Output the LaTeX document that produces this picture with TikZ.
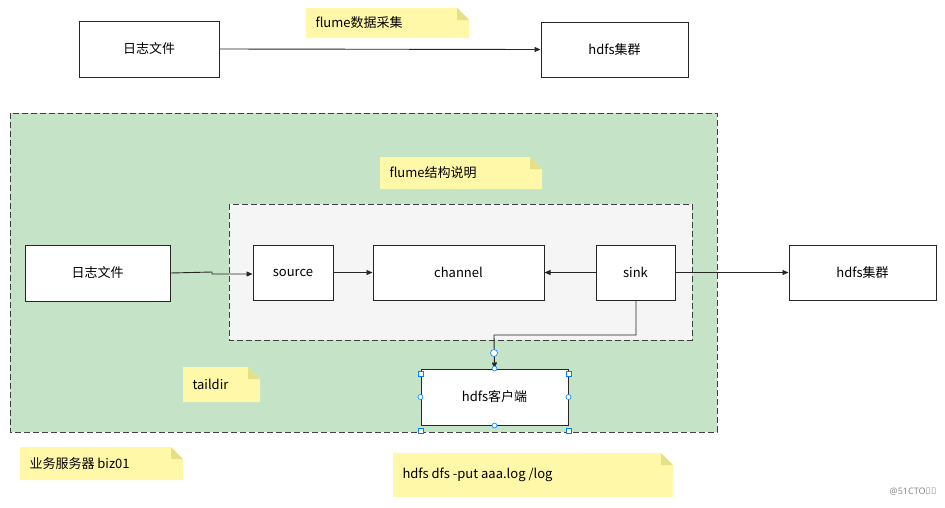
\documentclass[tikz,border=0pt]{standalone}
\usepackage{fontspec}
\setmainfont{Noto Sans}
\newfontfamily\cjk{Noto Sans CJK SC}
\usetikzlibrary{arrows.meta}
\begin{document}
\begin{tikzpicture}[x=1pt,y=-1pt,font=\cjk\fontsize{13}{15}\selectfont,
  box/.style={draw=black!85,line width=1pt,fill=white,inner sep=0pt},
  arr/.style={draw=black!85,line width=0.9pt,-{Triangle[length=6pt,width=5pt]}},
  note/.style={fill=yellow!35!white!95!orange,draw=none},
  handle/.style={draw=blue!50!cyan,fill=white,line width=0.6pt}]
\useasboundingbox (0,0) rectangle (945,507);
\fill[white] (0,0) rectangle (945,507);
\definecolor{notey}{HTML}{FFF8A8}
\definecolor{grn}{HTML}{C5E3C7}
\definecolor{gry}{HTML}{F5F5F5}
\newcommand\notebox[5]{%
  \fill[notey] (#1,#2) -- (#3-12,#2) -- (#3,#2+12) -- (#3,#4) -- (#1,#4) -- cycle;
  \fill[notey!80!olive] (#3-12,#2) -- (#3-12,#2+12) -- (#3,#2+12) -- cycle;
  \node[anchor=west] at (#1+6,{(#2+#4)/2}) {#5};}
% notes
\notebox{306}{8}{469}{38}{flume数据采集}
% top boxes
\node[box,minimum width=140pt,minimum height=56pt] (log1) at (149,49) {日志文件};
\node[box,minimum width=147pt,minimum height=55pt] (hd1) at (614.5,49.5) {hdfs集群};
\draw[arr] (log1.east) -- (hd1.west);
% green region
\draw[fill=grn,dash pattern=on 6pt off 3pt,line width=1pt,draw=black!75] (10,113) rectangle (717,432);
\draw[fill=gry,dash pattern=on 6pt off 3pt,line width=1pt,draw=black!75] (229,204) rectangle (692,340);
\notebox{380}{157}{542}{189}{flume结构说明}
\notebox{183}{367}{260}{402}{taildir}
\notebox{20}{447}{183}{480}{业务服务器 biz01}
\notebox{393}{453}{673}{497}{hdfs dfs -put aaa.log /log}
\node[box,minimum width=145pt,minimum height=56pt] (log2) at (97.5,273) {日志文件};
\node[box,minimum width=80pt,minimum height=55pt] (src) at (293,272.5) {source};
\node[box,minimum width=171pt,minimum height=55pt] (ch) at (458.5,272.5) {channel};
\node[box,minimum width=79pt,minimum height=55pt] (sink) at (635.5,272.5) {sink};
\node[box,minimum width=147pt,minimum height=55pt] (hd2) at (862.5,272.5) {hdfs集群};
\node[box,minimum width=147pt,minimum height=56pt] (cli) at (494.5,397) {hdfs客户端};
\coordinate (k1) at (212,272);
\coordinate (k2) at (212,274);
\draw[arr] (log2.east) -- (k1) -- (k2) -- (src.west|-k2);
\draw[arr] (src.east) -- (ch.west);
\draw[arr] (sink.west) -- (ch.east);
\draw[arr] (sink.east) -- (hd2.west);
\coordinate (b1) at (636,335);
\coordinate (b2) at (494,335);
\draw[arr] (sink.south-|b1) -- (b1) -- (b2) -- (cli.north);
% selection handles
\draw[handle] (494,353) circle (3.5pt);
\foreach \p in {north west,north east,south west,south east}
  \draw[handle] ([xshift=-2.5pt,yshift=-2.5pt]cli.\p) rectangle ++(5,5);
\foreach \p in {north,south,east,west}
  \draw[handle] (cli.\p) circle (2.5pt);
\node[font=\fontsize{9}{10}\selectfont,text=black!45,anchor=east] at (940,492) {@51CTO博客};
\end{tikzpicture}
\end{document}
